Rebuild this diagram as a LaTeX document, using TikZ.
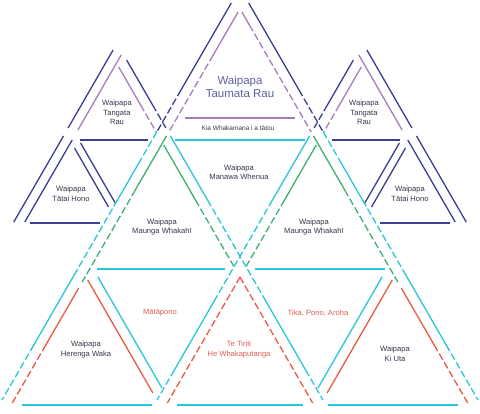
\documentclass[tikz,border=0pt]{standalone}
\usepackage{fontspec}
\setmainfont{Liberation Sans}
\definecolor{navy}{RGB}{60,63,143}
\definecolor{mauve}{RGB}{165,125,185}
\definecolor{aqua}{RGB}{42,198,216}
\definecolor{leaf}{RGB}{63,174,111}
\definecolor{flax}{RGB}{232,90,69}
\definecolor{ink}{RGB}{55,55,75}
\definecolor{redink}{RGB}{225,95,80}
\definecolor{topink}{RGB}{95,95,160}
\begin{document}
\begin{tikzpicture}[x=1pt, y=-1pt, line width=1.3pt,
  weave/.style={dash pattern=on 7pt off 3pt},
  lab/.style={align=center, inner sep=0pt, text=ink, font=\fontsize{7.6}{9.5}\selectfont},
  redlab/.style={lab, text=redink}]
\useasboundingbox (0,0) rectangle (480,414);

% side triangles, left
\draw[navy] (113.1,50) -- (68.1,128);
\draw[navy] (63.5,136) -- (13.8,222);
\draw[mauve] (121.2,55) -- (77.9,130);
\draw[navy] (72.2,140) -- (24.8,222);
\draw[navy] (80,140) -- (148,140);
\draw[navy] (74.5,148) -- (108.5,207);
\draw[navy] (80.6,143) -- (115.2,203);
\draw[navy] (30,223) -- (100,223);
\draw[mauve] (118.7,67) -- (140.6,105);
\draw[mauve, weave] (140.6,105) -- (156.2,132);
\draw[navy] (126.6,60) -- (152.6,105);
\draw[navy, weave] (152.6,105) -- (165.9,128);

% side triangles, right
\draw[navy] (366.9,50) -- (411.9,128);
\draw[navy] (416.5,136) -- (466.2,222);
\draw[mauve] (358.8,55) -- (402.1,130);
\draw[navy] (407.8,140) -- (455.2,222);
\draw[navy] (332,140) -- (400,140);
\draw[navy] (405.5,148) -- (371.5,207);
\draw[navy] (399.4,143) -- (364.8,203);
\draw[navy] (380,223) -- (450,223);
\draw[mauve] (361.3,67) -- (339.4,105);
\draw[mauve, weave] (339.4,105) -- (323.8,132);
\draw[navy] (353.4,60) -- (327.4,105);
\draw[navy, weave] (327.4,105) -- (314.1,128);

% big left edge
\draw[navy] (231.3,3) -- (181,90);
\draw[navy, weave] (181,90) -- (156.8,132);
\draw[aqua, weave] (156.8,132) -- (140.6,160);
\draw[aqua] (140.6,160) -- (117.5,200);
\draw[aqua, weave] (117.5,200) -- (74.2,275);
\draw[aqua] (74.2,275) -- (33.8,345);
\draw[aqua, weave] (33.8,345) -- (2,400);
\draw[mauve] (238.1,12) -- (213.2,55);
\draw[mauve, weave] (213.2,55) -- (168.8,132);
\draw[leaf] (166.5,136) -- (135.3,190);
\draw[leaf, weave] (135.3,190) -- (82.2,282);
\draw[flax] (78.7,288) -- (45.8,345);
\draw[flax, weave] (45.8,345) -- (12.3,403);

% big right edge
\draw[navy] (248.7,3) -- (299,90);
\draw[navy, weave] (299,90) -- (323.2,132);
\draw[aqua, weave] (323.2,132) -- (339.4,160);
\draw[aqua] (339.4,160) -- (362.5,200);
\draw[aqua, weave] (362.5,200) -- (405.8,275);
\draw[aqua] (405.8,275) -- (446.2,345);
\draw[aqua, weave] (446.2,345) -- (478,400);
\draw[mauve] (241.9,12) -- (249.4,25);
\draw[mauve, weave] (249.4,25) -- (311.2,132);
\draw[leaf] (313.5,136) -- (344.7,190);
\draw[leaf, weave] (344.7,190) -- (397.8,282);
\draw[flax] (401.3,288) -- (434.2,345);
\draw[flax, weave] (434.2,345) -- (467.7,403);

% inner diagonals
\draw[leaf] (163.7,145) -- (195.5,200);
\draw[leaf, weave] (195.5,200) -- (233.6,266);
\draw[aqua] (170.5,136) -- (207.5,200);
\draw[aqua, weave] (207.5,200) -- (265.2,300);
\draw[aqua] (265.2,300) -- (305.6,370);
\draw[aqua, weave] (305.6,370) -- (323,400);
\draw[flax, weave] (239.9,277) -- (312.7,403);
\draw[leaf] (316.3,145) -- (284.5,200);
\draw[leaf, weave] (284.5,200) -- (246.4,266);
\draw[aqua] (309.5,136) -- (272.5,200);
\draw[aqua, weave] (272.5,200) -- (214.8,300);
\draw[aqua] (214.8,300) -- (174.4,370);
\draw[aqua, weave] (174.4,370) -- (157,400);
\draw[flax, weave] (240.1,277) -- (167.3,403);
\draw[flax] (87.7,280) -- (152.9,393);
\draw[aqua] (97.9,277) -- (162,388);
\draw[flax] (392.3,280) -- (327.1,393);
\draw[aqua] (382.1,277) -- (318,388);

% rows
\draw[mauve] (185,118) -- (295,118);
\draw[aqua] (175,140) -- (305,140);
\draw[aqua] (97,269) -- (225,269);
\draw[aqua] (255,269) -- (385,269);
\draw[aqua] (22,405) -- (152,405);
\draw[aqua] (177,405) -- (303,405);
\draw[aqua] (328,405) -- (458,405);

% labels
\node[lab, text=topink, font=\fontsize{11.5}{13}\selectfont] (taumata) at (240,86.5) {Waipapa\\Taumata Rau};
\node[lab, font=\fontsize{6.5}{8}\selectfont] (kia) at (238,128) {Kia Whakamana i a tātou};
\node[lab] (tangataL) at (117,112.5) {Waipapa\\Tangata\\Rau};
\node[lab] (tangataR) at (364,112.5) {Waipapa\\Tangata\\Rau};
\node[lab] (tataiL) at (71,194) {Waipapa\\Tātai Hono};
\node[lab] (tataiR) at (410,194) {Waipapa\\Tātai Hono};
\node[lab] (manawa) at (239,172.5) {Waipapa\\Manawa Whenua};
\node[lab] (maungaL) at (162,227) {Waipapa\\Maunga Whakahī};
\node[lab] (maungaR) at (314,227) {Waipapa\\Maunga Whakahī};
\node[redlab] (matapono) at (160,313) {Mātāpono};
\node[redlab] (tika) at (318,313) {Tika, Pono, Aroha};
\node[lab] (herenga) at (86,349.5) {Waipapa\\Herenga Waka};
\node[redlab] (tiriti) at (239,349.5) {Te Tiriti\\He Whakaputanga};
\node[lab] (kiuta) at (395,354) {Waipapa\\Ki Uta};
\end{tikzpicture}
\end{document}
